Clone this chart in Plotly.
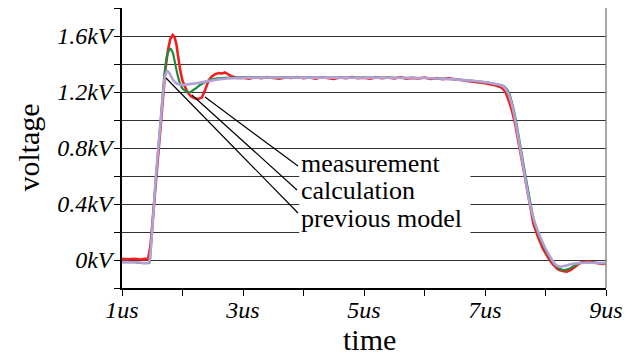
import plotly.graph_objects as go

# ---- data (time in us, voltage in kV) ----
meas_t = [1.0, 1.1, 1.2, 1.3, 1.38, 1.43, 1.47, 1.49, 1.53, 1.56, 1.60, 1.64, 1.68, 1.72, 1.76, 1.80,
          1.84, 1.87, 1.90, 1.93, 1.96, 2.00, 2.04, 2.08, 2.14, 2.20, 2.26, 2.32, 2.37, 2.43, 2.48,
          2.54, 2.60, 2.66, 2.70, 2.75, 2.80, 2.85, 2.90,
          3.0, 3.1, 3.2, 3.3, 3.4, 3.5, 3.6, 3.7, 3.8, 3.9, 4.0, 4.1, 4.2, 4.3, 4.4, 4.5, 4.6, 4.7,
          4.8, 4.9, 5.0, 5.1, 5.2, 5.3, 5.4, 5.5, 5.6, 5.7, 5.8, 5.9, 6.0, 6.1, 6.2, 6.3, 6.4, 6.5,
          6.6, 6.7, 6.8, 6.9, 7.0, 7.1, 7.2, 7.28, 7.34, 7.40, 7.45, 7.50, 7.58, 7.66, 7.74, 7.80,
          7.88, 7.96, 8.04, 8.12, 8.20, 8.28, 8.35, 8.42, 8.50, 8.56, 8.62, 8.70, 8.78, 8.86, 8.94, 9.0]
meas_v = [0.008, 0.005, 0.009, 0.004, 0.008, 0.006, 0.10, 0.20, 0.39, 0.59, 0.80, 1.00, 1.20, 1.37, 1.50, 1.58,
          1.607, 1.59, 1.54, 1.45, 1.36, 1.28, 1.235, 1.20, 1.17, 1.155, 1.15, 1.16, 1.21, 1.28, 1.31,
          1.328, 1.335, 1.332, 1.34, 1.325, 1.315, 1.308, 1.300,
          1.302, 1.296, 1.305, 1.299, 1.306, 1.301, 1.295, 1.304, 1.300, 1.307, 1.298, 1.303, 1.296, 1.305, 1.300, 1.294, 1.303, 1.298,
          1.306, 1.299, 1.302, 1.295, 1.304, 1.298, 1.303, 1.297, 1.305, 1.296, 1.301, 1.297, 1.303, 1.294, 1.299, 1.292, 1.297, 1.289,
          1.286, 1.279, 1.276, 1.268, 1.262, 1.255, 1.245, 1.23, 1.20, 1.13, 1.06, 0.97, 0.78, 0.57, 0.38, 0.26,
          0.16, 0.08, 0.02, -0.03, -0.065, -0.078, -0.083, -0.07, -0.045, -0.025, -0.014, -0.010, -0.016, -0.022, -0.028, -0.026]

calc_t = [1.0, 1.2, 1.45, 1.47, 1.50, 1.53, 1.565, 1.60, 1.64, 1.675, 1.71, 1.75, 1.80, 1.84, 1.88, 1.92,
          1.96, 2.00, 2.06, 2.12, 2.20, 2.29, 2.37, 2.45, 2.55, 2.65, 2.80, 3.0, 4.0, 5.0, 6.0, 6.5,
          6.8, 7.0, 7.2, 7.3, 7.36, 7.40, 7.46, 7.51, 7.59, 7.67, 7.75, 7.81, 7.89, 7.98, 8.08, 8.18,
          8.26, 8.32, 8.40, 8.48, 8.55, 8.65, 8.8, 9.0]
calc_v = [-0.015, -0.016, -0.02, 0.05, 0.22, 0.40, 0.60, 0.80, 1.00, 1.20, 1.36, 1.47, 1.51, 1.48, 1.40, 1.32,
          1.26, 1.225, 1.205, 1.198, 1.22, 1.25, 1.27, 1.286, 1.295, 1.30, 1.303, 1.305, 1.304, 1.303, 1.30, 1.29,
          1.28, 1.27, 1.255, 1.245, 1.22, 1.19, 1.10, 1.00, 0.80, 0.60, 0.41, 0.28, 0.18, 0.09, 0.01, -0.045,
          -0.068, -0.071, -0.06, -0.04, -0.022, -0.018, -0.02, -0.022]

prev_t = [1.0, 1.2, 1.44, 1.47, 1.50, 1.53, 1.56, 1.60, 1.64, 1.68, 1.71, 1.75, 1.79, 1.84, 1.90, 1.96,
          2.04, 2.15, 2.30, 2.50, 2.70, 2.90, 3.2, 4.0, 5.0, 6.0, 6.5, 6.8, 7.0, 7.2, 7.3, 7.385,
          7.45, 7.50, 7.58, 7.66, 7.74, 7.80, 7.88, 7.98, 8.08, 8.16, 8.24, 8.32, 8.42, 8.55, 8.7, 9.0]
prev_v = [-0.015, -0.016, -0.018, 0.05, 0.22, 0.40, 0.60, 0.80, 1.00, 1.20, 1.31, 1.352, 1.33, 1.29, 1.262, 1.252,
          1.252, 1.258, 1.268, 1.283, 1.295, 1.30, 1.303, 1.303, 1.302, 1.30, 1.29, 1.28, 1.27, 1.255, 1.24, 1.19,
          1.10, 1.00, 0.80, 0.595, 0.405, 0.30, 0.20, 0.10, 0.02, -0.03, -0.048, -0.042, -0.03, -0.022, -0.02, -0.022]

x_ticks = [1, 2, 3, 4, 5, 6, 7, 8, 9]
x_labels = ["1us", "", "3us", "", "5us", "", "7us", "", "9us"]
y_ticks = [-0.2, 0.0, 0.2, 0.4, 0.6, 0.8, 1.0, 1.2, 1.4, 1.6, 1.8]
y_labels = ["", "0kV", "", "0.4kV", "", "0.8kV", "", "1.2kV", "", "1.6kV", ""]
legend_names = ["measurement", "calculation", "previous model"]

SERIF = "Liberation Serif, Times New Roman, DejaVu Serif, serif"

fig = go.Figure()
fig.add_trace(go.Scatter(x=meas_t, y=meas_v, mode="lines", name=legend_names[0],
                         line=dict(color="#f21d1d", width=2.6)))
fig.add_trace(go.Scatter(x=calc_t, y=calc_v, mode="lines", name=legend_names[1],
                         line=dict(color="#1e8c3c", width=2.2, shape="spline", smoothing=0.6)))
fig.add_trace(go.Scatter(x=prev_t, y=prev_v, mode="lines", name=legend_names[2],
                         line=dict(color="#b4a0d6", width=2.6, shape="spline", smoothing=0.6)))

# white box behind the labels (hides gridlines)
fig.add_shape(type="rect", xref="x", yref="y", x0=3.93, x1=6.76, y0=0.16, y1=0.77,
              fillcolor="white", line=dict(width=0), layer="between")
# right border
fig.add_shape(type="line", xref="paper", yref="paper", x0=1, x1=1, y0=0, y1=1,
              line=dict(color="#888888", width=1.5))

# leader lines
leaders = [((2.372, 1.164), (3.909, 0.671)),
           ((2.157, 1.179), (3.893, 0.50)),
           ((1.727, 1.300), (3.909, 0.336))]
for (a, b) in leaders:
    fig.add_shape(type="line", xref="x", yref="y", x0=a[0], y0=a[1], x1=b[0], y1=b[1],
                  line=dict(color="black", width=1.2))

label_y = [0.69, 0.50, 0.30]
for name, yy in zip(legend_names, label_y):
    fig.add_annotation(x=3.93, y=yy, xref="x", yref="y", text=name, showarrow=False,
                       xanchor="left", yanchor="middle",
                       font=dict(family=SERIF, size=26, color="black"))

fig.add_annotation(text="voltage", xref="paper", yref="paper", x=-0.195, y=0.5,
                   textangle=-90, showarrow=False, xanchor="center", yanchor="middle",
                   font=dict(family=SERIF, size=30, color="black"))
fig.add_annotation(text="time", xref="paper", yref="paper", x=0.511, y=-0.185,
                   showarrow=False, xanchor="center", yanchor="middle",
                   font=dict(family=SERIF, size=30, color="black"))

fig.update_xaxes(range=[1, 9], tickvals=x_ticks, ticktext=x_labels, ticks="outside", ticklen=6,
                 tickcolor="black", showline=True, linecolor="black", linewidth=1.5,
                 showgrid=False, zeroline=False, automargin=False, ticklabelstandoff=-7,
                 tickfont=dict(family=SERIF, size=24, color="black", style="italic"))
fig.update_yaxes(range=[-0.2, 1.8], tickvals=y_ticks, ticktext=y_labels, ticks="outside", ticklen=6,
                 tickcolor="black", showline=True, linecolor="black", linewidth=1.5,
                 showgrid=True, gridcolor="#333333", gridwidth=1, zeroline=False, automargin=False,
                 ticklabelstandoff=-3,
                 tickfont=dict(family=SERIF, size=24, color="black", style="italic"))

fig.update_layout(width=637, height=358, margin=dict(l=122, r=31, t=8, b=70),
                  paper_bgcolor="white", plot_bgcolor="white", showlegend=False)

fig.write_html("out.html", config={"displayModeBar": False},
               post_script="document.body.style.margin='0';")
